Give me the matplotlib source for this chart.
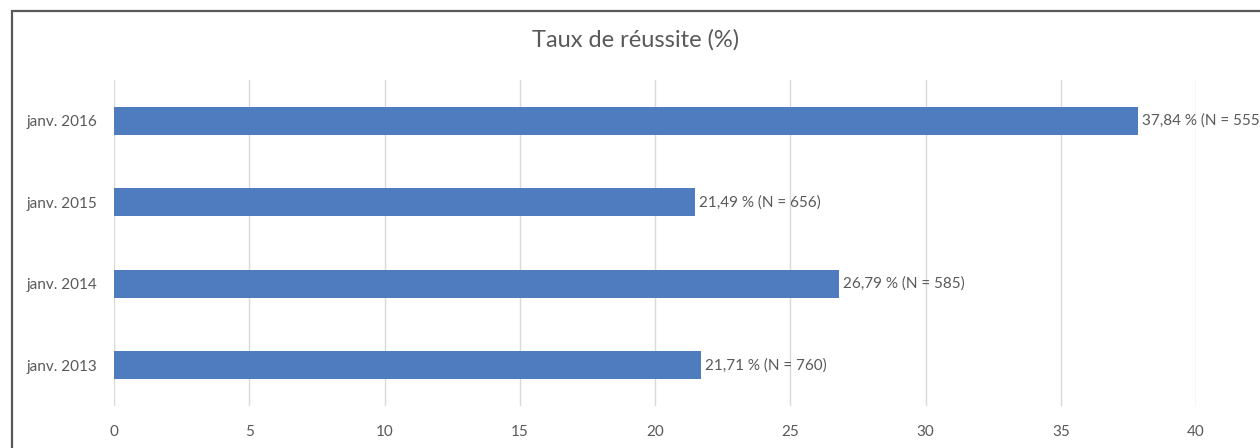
import matplotlib
matplotlib.use('Agg')
import matplotlib.pyplot as plt
from matplotlib.patches import Rectangle

# data
categories = ['janv. 2013', 'janv. 2014', 'janv. 2015', 'janv. 2016']
rates = [21.71, 26.79, 21.49, 37.84]
counts = [760, 585, 656, 555]
x_ticks = [0, 5, 10, 15, 20, 25, 30, 35, 40]


def main():
    plt.rcParams['font.family'] = ['Lato', 'DejaVu Sans']
    text_color = '#595959'

    fig = plt.figure(figsize=(12.6, 4.48), dpi=100)
    ax = fig.add_axes([114 / 1260, 1 - 406 / 448, (1196 - 114) / 1260, (406 - 80) / 448])

    # bars
    ypos = list(range(len(categories)))
    ax.barh(ypos, rates, height=0.34, color='#4f7cbf', zorder=3)

    # value labels
    for y, r, n in zip(ypos, rates, counts):
        label = f'{r:.2f}'.replace('.', ',') + f' % (N = {n})'
        ax.annotate(label, (r, y), xytext=(3, 0), textcoords='offset points',
                    va='center', ha='left', fontsize=11, color=text_color,
                    annotation_clip=False)

    # axes
    ax.set_xlim(0, 40)
    ax.set_ylim(-0.5, len(categories) - 0.5)
    ax.set_xticks(x_ticks)
    ax.set_xticklabels([str(t) for t in x_ticks])
    ax.set_yticks(ypos)
    ax.set_yticklabels(categories)
    ax.tick_params(axis='both', length=0, labelsize=11, colors=text_color)
    ax.tick_params(axis='y', pad=12)
    ax.tick_params(axis='x', pad=14)
    ax.grid(axis='x', color='#d9d9d9', linewidth=1, zorder=0)
    for s in ax.spines.values():
        s.set_visible(False)

    # title
    fig.text(636 / 1260, 1 - 40 / 448, 'Taux de réussite (%)', ha='center', va='center',
             fontsize=17, color=text_color)

    # outer border (cropped on the right and bottom)
    border = Rectangle((11.5 / 1260, -0.1), 1.2, 1.1 - 11.5 / 448, transform=fig.transFigure,
                       fill=False, edgecolor='#595959', linewidth=1.6)
    fig.patches.append(border)

    fig.savefig('out.png', dpi=100)


if __name__ == '__main__':
    main()
